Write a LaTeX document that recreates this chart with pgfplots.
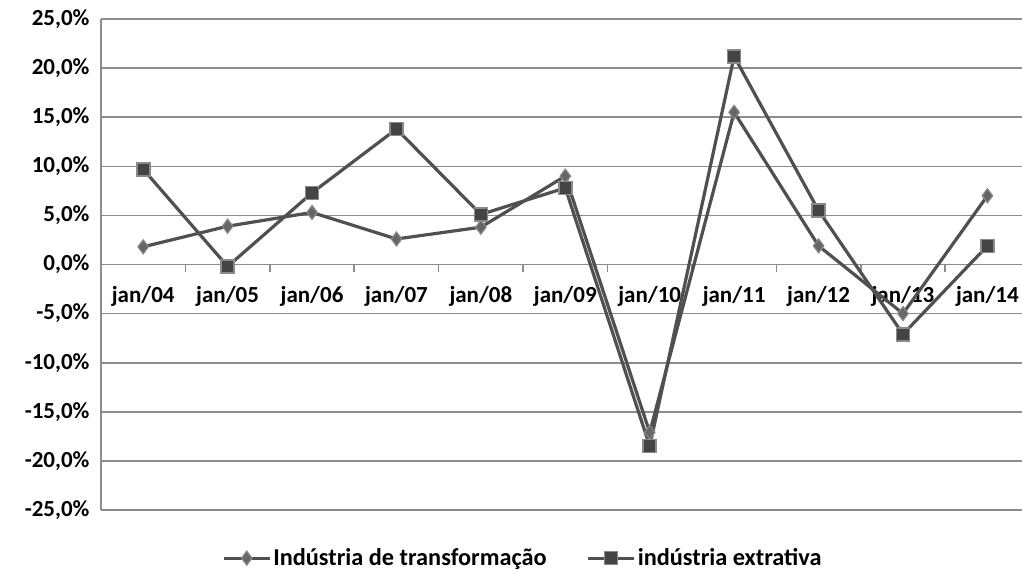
\documentclass[border=0pt]{standalone}
\usepackage{pgfplots}
\pgfplotsset{compat=1.18}
\usepackage{fontspec}
\setmainfont{Carlito}
\definecolor{lineC}{HTML}{505050}
\definecolor{gridC}{HTML}{8C8C8C}
\definecolor{diaF}{HTML}{666666}
\definecolor{diaE}{HTML}{888888}
\definecolor{sqF}{HTML}{444444}
\definecolor{sqE}{HTML}{8A8A8A}
\begin{document}
\begin{tikzpicture}
\begin{axis}[
  at={(0,0)}, anchor=south west,
  scale only axis, width=921pt, height=491pt,
  xmin=-0.5, xmax=10.41, ymin=-25, ymax=25,
  axis x line=middle, axis y line=left,
  axis line style={-, draw=gridC, line width=1.6pt},
  ytick={-25,-20,...,25},
  yticklabels={{-25,0\%},{-20,0\%},{-15,0\%},{-10,0\%},{-5,0\%},{0,0\%},{5,0\%},{10,0\%},{15,0\%},{20,0\%},{25,0\%}},
  xtick={0,...,10},
  xticklabels={jan/04,jan/05,jan/06,jan/07,jan/08,jan/09,jan/10,jan/11,jan/12,jan/13,jan/14},
  minor xtick={0.5,1.5,...,9.5},
  major tick length=0pt,
  minor tick length=7pt,
  xtick align=outside, ytick align=outside,
  ytick style={draw=gridC, line width=1.6pt},
  minor tick style={draw=gridC, line width=1.6pt},
  ymajorgrids,
  grid style={draw=gridC, line width=1.6pt},
  tick label style={font=\fontsize{23}{27}\selectfont\bfseries},
  yticklabel style={xshift=-8pt},
  xticklabel style={yshift=-18pt},
  legend style={at={(0.458,-0.098)}, anchor=center, draw=none, fill=none,
    font=\fontsize{24.3}{28}\selectfont\bfseries, legend columns=2,
    /tikz/every even column/.append style={column sep=38pt}},
  legend image code/.code={
    \draw[mark repeat=2,mark phase=2,#1] plot coordinates {(0pt,0pt) (23pt,0pt) (46pt,0pt)};},
  legend cell align=left,
  clip=false,
]
\addplot[lineC, line width=3.2pt, mark=diamond*, mark size=7pt,
  mark options={fill=diaF, draw=diaE, line width=1.2pt}]
  coordinates {(0,1.8)(1,3.9)(2,5.3)(3,2.6)(4,3.8)(5,9.0)(6,-17.1)(7,15.5)(8,1.9)(9,-5.0)(10,7.0)};
\addlegendentry{Indústria de transformação}
\addplot[lineC, line width=3.2pt, mark=square*, mark size=6.5pt,
  mark options={fill=sqF, draw=sqE, line width=1.6pt}]
  coordinates {(0,9.7)(1,-0.2)(2,7.3)(3,13.8)(4,5.1)(5,7.8)(6,-18.5)(7,21.2)(8,5.5)(9,-7.1)(10,1.9)};
\addlegendentry{indústria extrativa}
\end{axis}
\pgfresetboundingbox
\path (-101pt,-64pt) rectangle (921pt,510pt);
\end{tikzpicture}
\end{document}
